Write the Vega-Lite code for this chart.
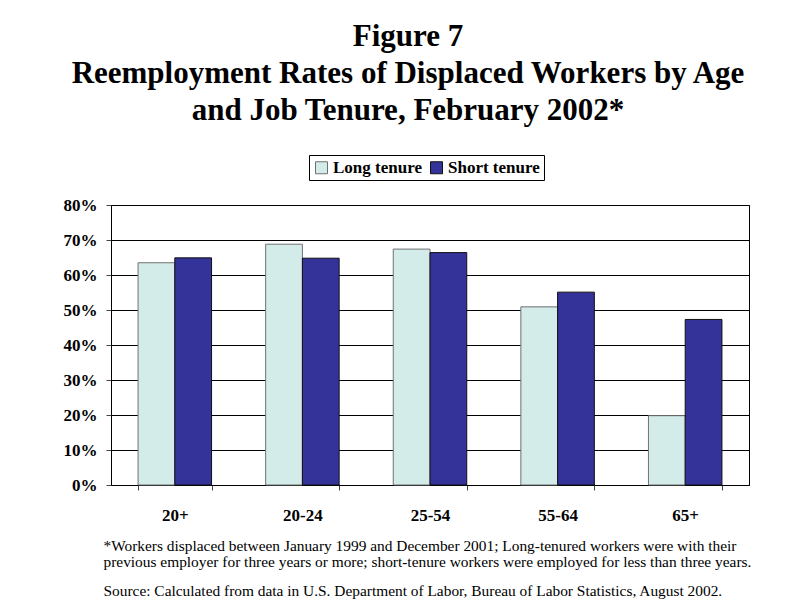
{
  "$schema": "https://vega.github.io/schema/vega-lite/v6.json",
  "autosize": {"type": "none"},
  "width": 638,
  "height": 280,
  "padding": {"left": 111, "top": 205, "right": 41, "bottom": 116},
  "background": "white",
  "title": {
    "text": ["Figure 7", "Reemployment Rates of Displaced Workers by Age", "and Job Tenure, February 2002*"],
    "font": "Liberation Serif",
    "fontSize": 31,
    "fontWeight": "bold",
    "color": "black",
    "lineHeight": 37,
    "anchor": "middle",
    "dx": -22,
    "offset": 28
  },
  "data": {
    "values": [
      {"age": "20+", "tenure": "Long tenure", "rate": 0.635},
      {"age": "20+", "tenure": "Short tenure", "rate": 0.649},
      {"age": "20-24", "tenure": "Long tenure", "rate": 0.688},
      {"age": "20-24", "tenure": "Short tenure", "rate": 0.648},
      {"age": "25-54", "tenure": "Long tenure", "rate": 0.674},
      {"age": "25-54", "tenure": "Short tenure", "rate": 0.664},
      {"age": "55-64", "tenure": "Long tenure", "rate": 0.509},
      {"age": "55-64", "tenure": "Short tenure", "rate": 0.551},
      {"age": "65+", "tenure": "Long tenure", "rate": 0.198},
      {"age": "65+", "tenure": "Short tenure", "rate": 0.473}
    ]
  },
  "mark": {"type": "bar", "strokeWidth": 1},
  "encoding": {
    "x": {
      "field": "age",
      "type": "nominal",
      "sort": ["20+", "20-24", "25-54", "55-64", "65+"],
      "scale": {"paddingInner": 0.424, "paddingOuter": 0.212},
      "axis": {
        "tickBand": "extent",
        "labelAngle": 0,
        "labelFont": "Liberation Serif",
        "labelFontWeight": "bold",
        "labelFontSize": 17,
        "labelColor": "black",
        "labelPadding": 17,
        "tickSize": 5,
        "tickColor": "#444",
        "domainColor": "black",
        "title": [
          "*Workers displaced between January 1999 and December 2001; Long-tenured workers were with their",
          "previous employer for three years or more; short-tenure workers were employed for less than three years."
        ],
        "titleFont": "Liberation Serif",
        "titleFontSize": 15.4,
        "titleFontWeight": "normal",
        "titleColor": "black",
        "titleLineHeight": 16,
        "titleAnchor": "start",
        "titleAlign": "left",
        "titleBaseline": "alphabetic",
        "titleX": -8,
        "titleY": 65
      }
    },
    "xOffset": {"field": "tenure", "type": "nominal", "sort": ["Long tenure", "Short tenure"]},
    "y": {
      "field": "rate",
      "type": "quantitative",
      "scale": {"domain": [0, 0.8], "nice": false},
      "axis": {
        "values": [0, 0.1, 0.2, 0.3, 0.4, 0.5, 0.6, 0.7, 0.8],
        "format": ".0%",
        "title": "Source: Calculated from data in U.S. Department of  Labor, Bureau of Labor Statistics, August  2002.",
        "titleFont": "Liberation Serif",
        "titleFontSize": 15.4,
        "titleFontWeight": "normal",
        "titleColor": "black",
        "titleAngle": 0,
        "titleAlign": "left",
        "titleBaseline": "alphabetic",
        "titleX": -8,
        "titleY": 390,
        "grid": true,
        "gridColor": "black",
        "gridOpacity": 1,
        "labelFont": "Liberation Serif",
        "labelFontWeight": "bold",
        "labelFontSize": 17,
        "labelColor": "black",
        "labelPadding": 9,
        "tickSize": 5,
        "tickColor": "#444",
        "domainColor": "black"
      }
    },
    "fill": {
      "field": "tenure",
      "type": "nominal",
      "scale": {"domain": ["Long tenure", "Short tenure"], "range": ["#d3ecea", "#333399"]},
      "legend": {
        "title": null,
        "orient": "none",
        "legendX": 198,
        "legendY": -50,
        "direction": "horizontal",
        "strokeColor": "black",
        "padding": 4,
        "symbolType": "square",
        "symbolSize": 144,
        "symbolStrokeColor": "black",
        "symbolStrokeWidth": 1,
        "labelFont": "Liberation Serif",
        "labelFontWeight": "bold",
        "labelFontSize": 17,
        "labelColor": "black",
        "columnPadding": 6,
        "labelOffset": 3
      }
    },
    "stroke": {
      "field": "tenure",
      "type": "nominal",
      "scale": {"domain": ["Long tenure", "Short tenure"], "range": ["#707070", "#111111"]},
      "legend": null
    }
  },
  "config": {
    "view": {"stroke": "black", "strokeWidth": 1}
  }
}
